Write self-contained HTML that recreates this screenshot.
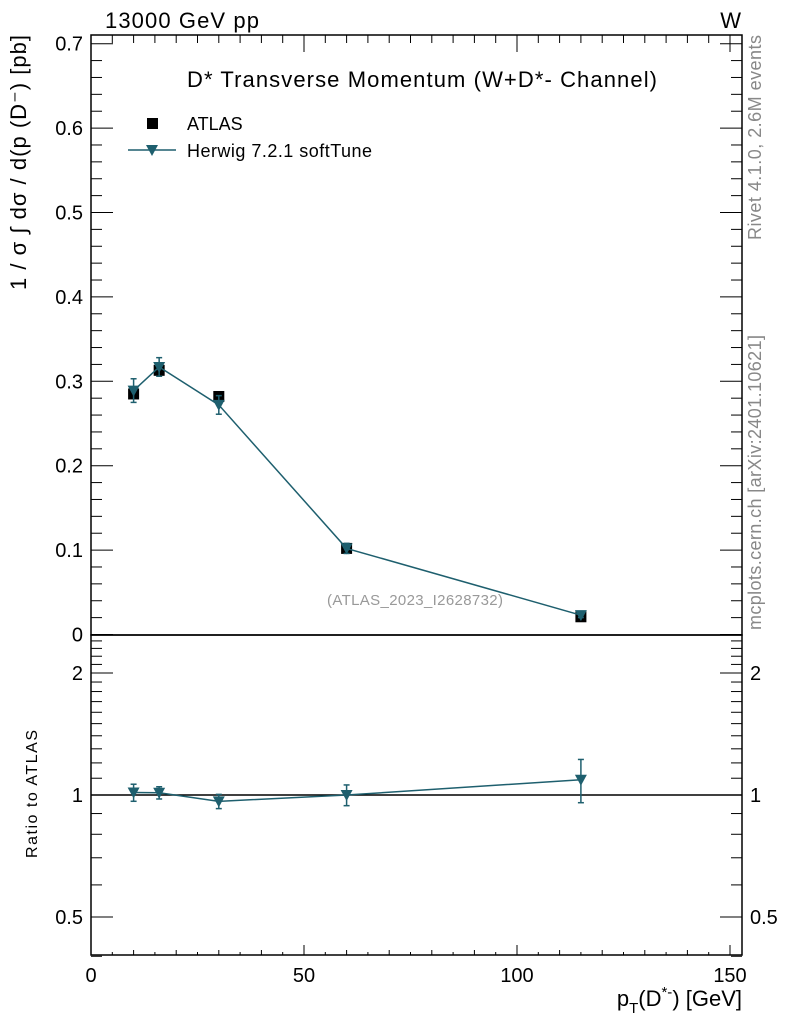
<!DOCTYPE html>
<html><head><meta charset="utf-8"><style>
body{margin:0;background:#fff}
svg{display:block;font-family:"Liberation Sans",sans-serif}
</style></head><body>
<svg id="c" width="786" height="1024" viewBox="0 0 786 1024">
<rect x="0" y="0" width="786" height="1024" fill="#fff"/>
<g id="ax"></g>
<text x="105" y="28" font-size="22" textLength="154">13000 GeV pp</text>
<text x="741" y="28" font-size="22" text-anchor="end">W</text>
<text x="187" y="87" font-size="22" textLength="470">D* Transverse Momentum (W+D*- Channel)</text>
<g>
<rect x="147" y="118" width="11" height="11" fill="#000"/>
<text x="187" y="130" font-size="18">ATLAS</text>
<line x1="128" y1="150" x2="176" y2="150" stroke="#1e5f6e" stroke-width="1.5"/>
<path d="M146,145 L158,145 L152,156 Z" fill="#1e5f6e"/>
<text x="187" y="157" font-size="18" textLength="185">Herwig 7.2.1 softTune</text>
</g>
<text x="327" y="605" font-size="15" fill="#999" textLength="176">(ATLAS_2023_I2628732)</text>
<text transform="translate(761,240) rotate(-90)" font-size="18" fill="#888" textLength="205">Rivet 4.1.0,  2.6M events</text>
<text transform="translate(761,630) rotate(-90)" font-size="18" fill="#888" textLength="295">mcplots.cern.ch [arXiv:2401.10621]</text>
<text transform="translate(26,290) rotate(-90)" font-size="22" textLength="255">1 / σ ∫ dσ / d(p (D⁻) [pb]</text>
<text transform="translate(37,858) rotate(-90)" font-size="16" textLength="128">Ratio to ATLAS</text>
<text x="742" y="1006" font-size="22" text-anchor="end">p<tspan font-size="15" dy="7">T</tspan><tspan dy="-7">(D</tspan><tspan font-size="15" dy="-9">*-</tspan><tspan dy="9">) [GeV]</tspan></text>
</svg>
<script>
const xVals=[10,16,30,60,115];
const atlas=[0.285,0.313,0.282,0.102,0.021];
const herwig=[0.289,0.317,0.272,0.102,0.0229];
const herwigErr=[0.014,0.011,0.011,0.006,0.0028];
const xTicks=[0,50,100,150];
const yTicks=[0,0.1,0.2,0.3,0.4,0.5,0.6,0.7];
const yTickLabels=["0","0.1","0.2","0.3","0.4","0.5","0.6","0.7"];
const rTicks=[0.5,1,2];
const rTickLabels=["0.5","1","2"];

const L=91,R=742,T=35,M=635,B=955,C="#1e5f6e";
const X=v=>L+v*(730-L)/150;
const Y=v=>634.5-v*844;
const RY=v=>795-122*Math.log2(v);
const g=document.getElementById('ax');
const NS="http://www.w3.org/2000/svg";
function mk(t,a,n){const e=document.createElementNS(NS,t);for(const k in a)e.setAttribute(k,a[k]);g.appendChild(e);return e;}
function ln(x1,y1,x2,y2,s,w){return mk('line',{x1,y1,x2,y2,stroke:s||'#000','stroke-width':w||1});}
function tx(x,y,s,anchor,size){const e=mk('text',{x,y,'font-size':size||20,'text-anchor':anchor});e.textContent=s;return e;}

let f=mk('rect',{x:L,y:T,width:R-L,height:M-T,fill:'none',stroke:'#000','stroke-width':1.5});


f=mk('rect',{x:L,y:M,width:R-L,height:B-M,fill:'none',stroke:'#000','stroke-width':1.5});



for(let v=0;v<=150;v+=5){const maj=v%50===0;
 const hb=maj?10:(v%10===0?5:3);
 const ht=maj?17:8;
 ln(X(v),B,X(v),B-hb);ln(X(v),T,X(v),T+ht);}
xTicks.forEach(v=>{const e=tx(X(v),982,String(v),'middle');
 
 });
for(let i=0;i<=35;i++){const v=i*0.02;if(Y(v)<T)continue;const maj=i%5===0,h=maj?22:11;
 ln(L,Y(v),L+h,Y(v));ln(R,Y(v),R-h,Y(v));}
yTicks.forEach((v,i)=>{const e=tx(83,Y(v)+7,yTickLabels[i],'end');
 
 });
const rMin=[0.4,0.6,0.7,0.8,0.9,1.1,1.2,1.3,1.4,1.5,1.6,1.7,1.8,1.9,2.1,2.2,2.3,2.4];
rMin.forEach(v=>{ln(L,RY(v),L+11,RY(v));ln(R,RY(v),R-11,RY(v));});
rTicks.forEach((v,i)=>{ln(L,RY(v),L+22,RY(v));ln(R,RY(v),R-22,RY(v));
 let e=tx(83,RY(v)+7,rTickLabels[i],'end');
 
 
 e=tx(750,RY(v)+7,rTickLabels[i],'start');
 
 });
let rl=ln(L,RY(1),R,RY(1),'#000',1.5);



xVals.forEach((x,i)=>{const e=mk('rect',{x:X(x)-5.5,y:Y(atlas[i])-5.5,width:11,height:11,fill:'#000'});
 
 });
function tri(cx,cy){return `M${cx-6},${cy-5} L${cx+6},${cy-5} L${cx},${cy+6} Z`;}
let p=mk('polyline',{points:xVals.map((x,i)=>X(x)+','+Y(herwig[i])).join(' '),fill:'none',stroke:C,'stroke-width':1.5});


const ratio=herwig.map((h,i)=>h/atlas[i]);
p=mk('polyline',{points:xVals.map((x,i)=>X(x)+','+RY(ratio[i])).join(' '),fill:'none',stroke:C,'stroke-width':1.5});


function err(x,y1,y2){ln(x,y1,x,y2,C,1.5);ln(x-3,y1,x+3,y1,C,1.5);ln(x-3,y2,x+3,y2,C,1.5);}
xVals.forEach((x,i)=>{const cx=X(x);
 err(cx,Y(herwig[i]+herwigErr[i]),Y(herwig[i]-herwigErr[i]));
 let e=mk('path',{d:tri(cx,Y(herwig[i])),fill:C});
 
 
 const r=ratio[i],re=herwigErr[i]/atlas[i];
 err(cx,RY(r+re),RY(r-re));
 e=mk('path',{d:tri(cx,RY(r)),fill:C});
 
 });
</script>
</body></html>
